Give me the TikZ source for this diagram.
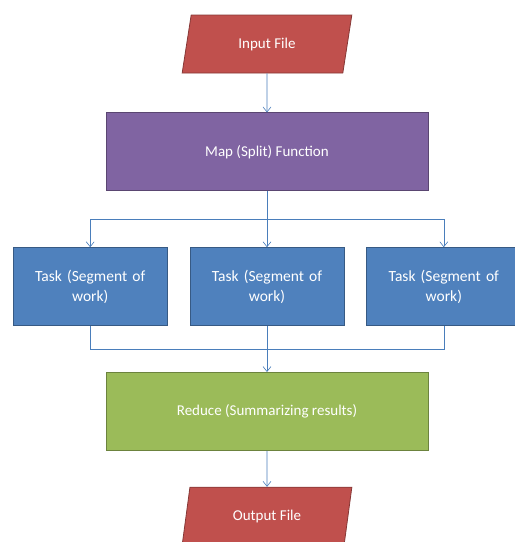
\documentclass[tikz,border=0pt]{standalone}
\usepackage{fontspec}
\setmainfont{Carlito}
\usetikzlibrary{shapes.geometric, arrows.meta, positioning, calc}

\definecolor{fileRed}{HTML}{C0504D}
\definecolor{mapPurple}{HTML}{8064A2}
\definecolor{taskBlue}{HTML}{4F81BD}
\definecolor{redGreen}{HTML}{9BBB59}
\definecolor{lineBlue}{HTML}{4A7EBB}

\begin{document}
\begin{tikzpicture}[
  x=1pt, y=1pt,
  file/.style  = {trapezium, trapezium left angle=79, trapezium right angle=101,
                  trapezium stretches=true, draw=#1!70!black, fill=#1, thick,
                  minimum width=170pt, minimum height=58pt,
                  font=\fontsize{15}{18}\selectfont, text=white},
  block/.style = {rectangle, draw=#1!70!black, fill=#1, thick,
                  minimum width=322pt, minimum height=78pt,
                  font=\fontsize{15}{18}\selectfont, text=white, align=center},
  task/.style  = {rectangle, draw=taskBlue!70!black, fill=taskBlue, thick,
                  minimum width=154pt, minimum height=78pt, text width=140pt,
                  font=\fontsize{15.5}{20}\selectfont, text=white, align=center},
  arr/.style   = {-{Straight Barb[length=5pt,width=8pt]}, draw=lineBlue, semithick},
  link/.style  = {draw=lineBlue, semithick},
]
\clip (0,0) rectangle (515,-542);

% ── Input ─────────────────────────────────────────────────────────────────────
\node[file=fileRed] (inp) at (267,-44) {Input File};

% ── Map ────────────────────────────────────────────────────────────────────────
\node[block=mapPurple, below=39pt of inp] (map) {Map (Split) Function};

% ── Tasks ──────────────────────────────────────────────────────────────────────
\node[task, below=56pt of map] (t2) {Task (Segment of\\work)};
\node[task, left=22pt of t2]   (t1) {Task (Segment of\\work)};
\node[task, right=22pt of t2]  (t3) {Task (Segment of\\work)};

% ── Reduce ─────────────────────────────────────────────────────────────────────
\node[block=redGreen, below=46pt of t2] (red) {Reduce (Summarizing results)};

% ── Output ─────────────────────────────────────────────────────────────────────
\node[file=fileRed, below=36pt of red] (out) {Output File};

% ── Arrows ─────────────────────────────────────────────────────────────────────
\coordinate (split) at ($(map.south)!0.5!(t2.north)$);
\coordinate (merge) at ($(t2.south)!0.5!(red.north)$);

\draw[arr] (inp) -- (map);
\draw[arr] (map) -- (t2);
\foreach \t in {t1, t3}
  \draw[arr] (split) -| (\t);
\foreach \t in {t1, t3}
  \draw[link] (\t) |- (merge);
\draw[arr] (t2) -- (red);
\draw[arr] (red) -- (out);

\end{tikzpicture}
\end{document}
